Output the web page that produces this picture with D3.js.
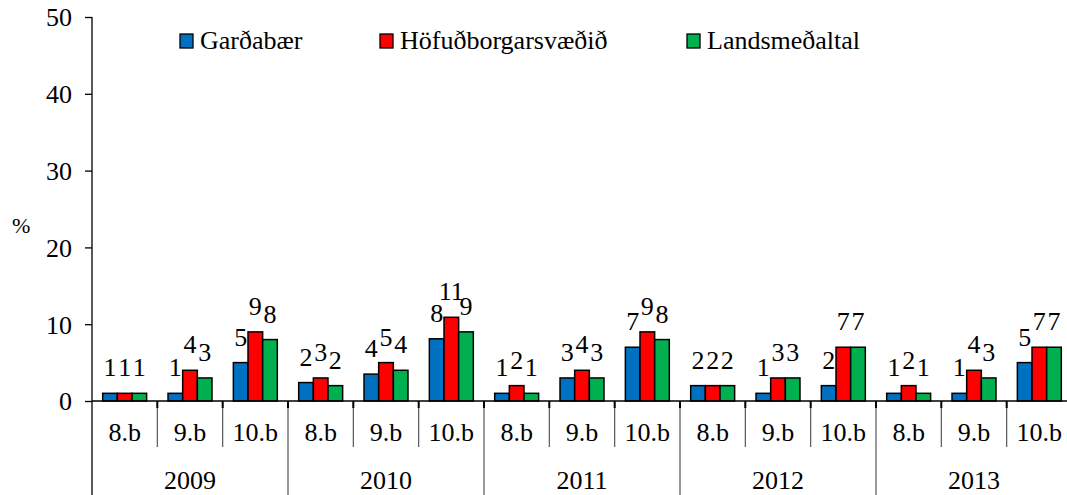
<!DOCTYPE html>
<html>
<head>
<meta charset="utf-8">
<script src="https://cdn.jsdelivr.net/npm/d3@7"></script>
</head>
<body style="margin:0">
<svg id="chart" width="1067" height="495"></svg>
<script>
// data
let years = ["2009", "2010", "2011", "2012", "2013"];
let grades = ["8.b", "9.b", "10.b"];
let seriesNames = ["Garðabær", "Höfuðborgarsvæðið", "Landsmeðaltal"];
let seriesColours = ["#0070C0", "#FF0000", "#00B050"];
let gardabaer = [1, 1, 5, 2.4, 3.5, 8.1, 1, 3, 7, 2, 1, 2, 1, 1, 5];
let hofudborg = [1, 4, 9, 3, 5, 10.9, 2, 4, 9, 2, 3, 7, 2, 4, 7];
let landsmedaltal = [1, 3, 8, 2, 4, 9, 1, 3, 8, 2, 3, 7, 1, 3, 7];
let yTicks = [0, 10, 20, 30, 40, 50];

function drawGroupedBars(holder){
	let margin = {"left": 92, "top": 17, "bottom": 94, "right": -5};
	let width = 1067;
	let height = 495;
	let fontSize = 26;
	let font = "Times New Roman";
	let svg = d3.select(holder);

	let groups = [];
	years.forEach(y => grades.forEach(g => groups.push({"year": y, "grade": g, "key": y + "-" + g})));
	let allSeries = [gardabaer, hofudborg, landsmedaltal];

	let x0 = d3.scaleBand()
		.domain(groups.map(d => d.key))
		.range([margin.left, width - margin.right]);
	let x1 = d3.scaleBand()
		.domain(seriesNames)
		.range([0, x0.bandwidth()])
		.paddingOuter(0.73);
	let y = d3.scaleLinear()
		.domain([0, 50])
		.range([height - margin.bottom, margin.top]);
	let base = y(0);

	// y axis
	let axisY = svg.append("g").attr("class", "axisY")
		.attr("transform", `translate(${margin.left},0)`)
		.call(d3.axisLeft(y).tickValues(yTicks).tickSize(7).tickPadding(13).tickFormat(d3.format("d")));
	axisY.attr("font-family", font).attr("font-size", fontSize);
	axisY.select(".domain").remove();
	axisY.selectAll(".tick line").attr("stroke", "#000").attr("stroke-width", 1.3);
	axisY.selectAll(".tick text")
		.attr("font-size", fontSize)
		.attr("font-family", font)
		.attr("dy", "0.34em");
	svg.append("line")
		.attr("x1", margin.left).attr("x2", margin.left)
		.attr("y1", margin.top).attr("y2", height)
		.attr("stroke", "#000").attr("stroke-width", 1.3);

	svg.append("text")
		.attr("x", 12).attr("y", 233)
		.attr("font-size", 22)
		.attr("font-family", font)
		.text("%");

	// bars
	let gBars = svg.append("g").attr("class", "bars");
	let rows = gBars.selectAll("g.group")
		.data(groups.map((g, i) => ({"key": g.key, "values": allSeries.map((s, j) => ({"name": seriesNames[j], "value": s[i], "colour": seriesColours[j]}))})))
		.join("g")
		.attr("class", "group")
		.attr("transform", d => `translate(${x0(d.key)},0)`);

	rows.selectAll("rect")
		.data(d => d.values)
		.join("rect")
		.attr("x", d => x1(d.name))
		.attr("y", d => y(d.value))
		.attr("width", x1.bandwidth())
		.attr("height", d => base - y(d.value))
		.attr("fill", d => d.colour)
		.attr("stroke", "#000")
		.attr("stroke-width", 1.5);

	rows.selectAll("text")
		.data(d => d.values)
		.join("text")
		.attr("x", d => x1(d.name) + x1.bandwidth() / 2)
		.attr("y", d => y(d.value) - 17)
		.attr("text-anchor", "middle")
		.attr("font-size", fontSize)
		.attr("font-family", font)
		.text(d => Math.round(d.value));

	// x axis line
	svg.append("line")
		.attr("x1", margin.left).attr("x2", width)
		.attr("y1", base).attr("y2", base)
		.attr("stroke", "#000").attr("stroke-width", 1.5);

	// grade separators and ticks
	let bounds = d3.range(1, groups.length).map(i => x0(groups[i].key));
	svg.append("g").selectAll("line")
		.data(bounds)
		.join("line")
		.attr("x1", d => d).attr("x2", d => d)
		.attr("y1", base).attr("y2", (d, i) => (i + 1) % 3 === 0 ? height : 447)
		.attr("stroke", "#555").attr("stroke-width", 1.2);
	svg.append("g").selectAll("line")
		.data(bounds)
		.join("line")
		.attr("x1", d => d).attr("x2", d => d)
		.attr("y1", base).attr("y2", base + 7)
		.attr("stroke", "#000").attr("stroke-width", 2);

	svg.append("g").selectAll("text")
		.data(groups)
		.join("text")
		.attr("x", d => x0(d.key) + x0.bandwidth() / 2)
		.attr("y", 441)
		.attr("text-anchor", "middle")
		.attr("font-size", fontSize)
		.attr("font-family", font)
		.text(d => d.grade);

	svg.append("g").selectAll("text")
		.data(years)
		.join("text")
		.attr("x", (d, i) => x0(groups[i * 3 + 1].key) + x0.bandwidth() / 2)
		.attr("y", 489)
		.attr("text-anchor", "middle")
		.attr("font-size", fontSize)
		.attr("font-family", font)
		.text(d => d);

	// legend
	let legendX = [180, 380, 687];
	let legend = svg.append("g").attr("class", "legend").selectAll("g")
		.data(seriesNames)
		.join("g")
		.attr("transform", (d, i) => `translate(${legendX[i]},34)`);
	legend.append("rect")
		.attr("width", 13).attr("height", 14)
		.attr("fill", (d, i) => seriesColours[i])
		.attr("stroke", "#000").attr("stroke-width", 1.3);
	legend.append("text")
		.attr("x", 20).attr("y", 15)
		.attr("font-size", fontSize)
		.attr("font-family", font)
		.text(d => d);
}

drawGroupedBars("#chart");
</script>
</body>
</html>
